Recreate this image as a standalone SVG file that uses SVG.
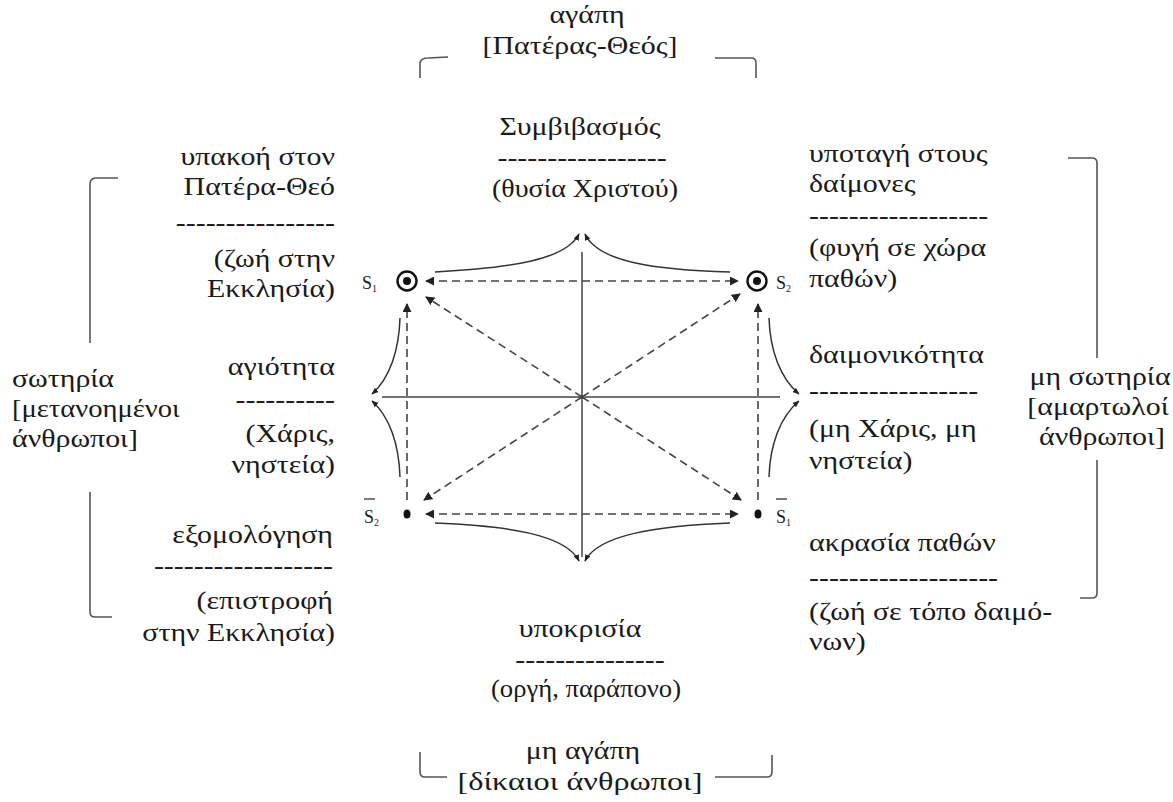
<svg xmlns="http://www.w3.org/2000/svg" width="1173" height="802" viewBox="0 0 1173 802">
<style>
text{font-family:"Liberation Serif","Times New Roman",serif;font-size:26px;fill:#1a1a1a}
.m{text-anchor:middle}
.r{text-anchor:end}
.lbl{font-size:18px}
.sub{font-size:10px}
.br{fill:none;stroke:#555;stroke-width:1.6}
.solid{fill:none;stroke:#444;stroke-width:1.5}
.dash{fill:none;stroke:#444;stroke-width:1.6;stroke-dasharray:8 5}
.curve{fill:none;stroke:#333;stroke-width:1.5}
</style>
<defs>
<marker id="ah" viewBox="0 0 10 10" refX="9" refY="5" markerWidth="9" markerHeight="9" markerUnits="userSpaceOnUse" orient="auto"><path d="M0,0 L10,5 L0,10 z" fill="#222"/></marker>
<marker id="ahs" viewBox="0 0 10 10" refX="9" refY="5" markerWidth="9" markerHeight="9" markerUnits="userSpaceOnUse" orient="auto-start-reverse"><path d="M0,0 L10,5 L0,10 z" fill="#222"/></marker>
<marker id="ac" viewBox="0 0 10 10" refX="9" refY="5" markerWidth="7" markerHeight="7" markerUnits="userSpaceOnUse" orient="auto"><path d="M0,1 L10,5 L0,9 z" fill="#222"/></marker>
</defs>

<g id="top-group">
<text class="m" transform="translate(587 23) scale(1.15 1)">αγάπη</text>
<text class="m" transform="translate(580 54) scale(1.15 1)">[Πατέρας-Θεός]</text>
<path class="br" d="M420,78 V63 Q421,58 428,58 L448,57"/>
<path class="br" d="M715,58 L751,58 Q756,58 756,63 V78"/>
</g>

<g id="bottom-group">
<text class="m" transform="translate(583 759) scale(1.15 1)">μη αγάπη</text>
<text class="m" x="580" y="790" textLength="245" lengthAdjust="spacingAndGlyphs">[δίκαιοι άνθρωποι]</text>
<path class="br" d="M420,752 V772 Q420,777 425,777 L447,777"/>
<path class="br" d="M715,777 L767,777 Q772,777 772,772 V755"/>
</g>

<g id="left-group">
<text transform="translate(12 387) scale(1.15 1)">σωτηρία</text>
<text transform="translate(12 417) scale(1.1 1)">[μετανοημένοι</text>
<text transform="translate(12 447) scale(1.15 1)">άνθρωποι]</text>
<path class="br" d="M118,178 L95,178 Q90,179 90,184 V343"/>
<path class="br" d="M90,492 V612 Q90,617 95,617 L112,617"/>
</g>

<g id="right-group">
<text class="m" transform="translate(1100 385) scale(1.15 1)">μη σωτηρία</text>
<text class="m" transform="translate(1098 415) scale(1.15 1)">[αμαρτωλοί</text>
<text class="m" transform="translate(1102 445) scale(1.15 1)">άνθρωποι]</text>
<path class="br" d="M1068,158 L1092,158 Q1097,158 1097,163 V358"/>
<path class="br" d="M1097,460 V593 Q1097,598 1092,598 L1080,598"/>
</g>

<g id="node-top">
<text class="m" transform="translate(580 135) scale(1.15 1)">Συμβιβασμός</text>
<text class="m" transform="translate(582 166) scale(1.15 1)">-----------------</text>
<text class="m" x="585" y="197" textLength="186" lengthAdjust="spacingAndGlyphs">(θυσία Χριστού)</text>
</g>

<g id="node-bottom">
<text class="m" transform="translate(580 637) scale(1.15 1)">υποκρισία</text>
<text class="m" transform="translate(590 668) scale(1.15 1)">---------------</text>
<text class="m" x="586" y="697" textLength="190" lengthAdjust="spacingAndGlyphs">(οργή, παράπονο)</text>
</g>

<g id="node-left-1">
<text class="r" transform="translate(335 165) scale(1.15 1)">υπακοή στον</text>
<text class="r" transform="translate(335 195) scale(1.15 1)">Πατέρα-Θεό</text>
<text class="r" transform="translate(335 231) scale(1.15 1)">----------------</text>
<text class="r" transform="translate(335 267) scale(1.15 1)">(ζωή στην</text>
<text class="r" transform="translate(335 297) scale(1.15 1)">Εκκλησία)</text>
</g>

<g id="node-left-2">
<text class="r" transform="translate(335 375) scale(1.15 1)">αγιότητα</text>
<text class="r" transform="translate(335 408) scale(1.15 1)">----------</text>
<text class="r" transform="translate(335 442) scale(1.15 1)">(Χάρις,</text>
<text class="r" transform="translate(335 473) scale(1.15 1)">νηστεία)</text>
</g>

<g id="node-left-3">
<text class="r" transform="translate(333 543) scale(1.15 1)">εξομολόγηση</text>
<text class="r" transform="translate(333 574) scale(1.15 1)">------------------</text>
<text class="r" transform="translate(333 609) scale(1.15 1)">(επιστροφή</text>
<text class="r" transform="translate(335 641) scale(1.15 1)">στην Εκκλησία)</text>
</g>

<g id="node-right-1">
<text transform="translate(809 162) scale(1.15 1)">υποταγή στους</text>
<text transform="translate(809 192) scale(1.15 1)">δαίμονες</text>
<text transform="translate(809 224) scale(1.15 1)">------------------</text>
<text transform="translate(809 256) scale(1.15 1)">(φυγή σε χώρα</text>
<text transform="translate(809 287) scale(1.15 1)">παθών)</text>
</g>

<g id="node-right-2">
<text transform="translate(809 363) scale(1.15 1)">δαιμονικότητα</text>
<text transform="translate(809 399) scale(1.15 1)">-----------------</text>
<text transform="translate(809 437) scale(1.15 1)">(μη Χάρις, μη</text>
<text transform="translate(809 469) scale(1.15 1)">νηστεία)</text>
</g>

<g id="node-right-3">
<text transform="translate(809 551) scale(1.15 1)">ακρασία παθών</text>
<text transform="translate(809 586) scale(1.15 1)">-------------------</text>
<text transform="translate(809 620) scale(1.15 1)">(ζωή σε τόπο δαιμό-</text>
<text transform="translate(809 650) scale(1.15 1)">νων)</text>
</g>

<g id="node-S1">
<circle cx="407" cy="281" r="9.5" fill="none" stroke="#111" stroke-width="2.4"/>
<circle cx="407" cy="281" r="4" fill="#111"/>
<text class="lbl" x="362" y="289">S<tspan class="sub" dy="3">1</tspan></text>
</g>
<g id="node-S2">
<circle cx="757" cy="281" r="9.5" fill="none" stroke="#111" stroke-width="2.4"/>
<circle cx="757" cy="281" r="4" fill="#111"/>
<text class="lbl" x="776" y="289">S<tspan class="sub" dy="3">2</tspan></text>
</g>
<g id="node-S2bar">
<ellipse cx="407" cy="514" rx="3.5" ry="4.5" fill="#111"/>
<text class="lbl" x="364" y="523">S<tspan class="sub" dy="3">2</tspan></text>
<line x1="364" y1="499" x2="375" y2="499" stroke="#222" stroke-width="1.2"/>
</g>
<g id="node-S1bar">
<ellipse cx="758" cy="514" rx="3.5" ry="4.5" fill="#111"/>
<text class="lbl" x="776" y="523">S<tspan class="sub" dy="3">1</tspan></text>
<line x1="776" y1="499" x2="787" y2="499" stroke="#222" stroke-width="1.2"/>
</g>

<g id="connectors">
<line class="solid" x1="382" y1="397" x2="780" y2="397"/>
<line class="solid" x1="582" y1="252" x2="582" y2="557"/>
<circle cx="582" cy="397" r="1.8" fill="#333"/>
<line class="dash" x1="426" y1="281" x2="738" y2="281" marker-start="url(#ahs)" marker-end="url(#ah)"/>
<line class="dash" x1="426" y1="514" x2="738" y2="514" marker-start="url(#ahs)" marker-end="url(#ah)"/>
<line class="dash" x1="407" y1="500" x2="407" y2="304" marker-end="url(#ah)"/>
<line class="dash" x1="758" y1="500" x2="758" y2="304" marker-end="url(#ah)"/>
<line class="dash" x1="582" y1="397" x2="426" y2="297" marker-end="url(#ah)"/>
<line class="dash" x1="582" y1="397" x2="740" y2="294" marker-end="url(#ah)"/>
<line class="dash" x1="582" y1="397" x2="424" y2="500" marker-end="url(#ah)"/>
<line class="dash" x1="582" y1="397" x2="741" y2="500" marker-end="url(#ah)"/>
<path class="curve" d="M435,272 C510,268 566,260 579,234" marker-end="url(#ac)"/>
<path class="curve" d="M730,272 C655,270 598,262 585,234" marker-end="url(#ac)"/>
<path class="curve" d="M435,523 C510,526 566,535 579,561" marker-end="url(#ac)"/>
<path class="curve" d="M730,523 C655,526 598,535 585,561" marker-end="url(#ac)"/>
<path class="curve" d="M400,318 C399,350 390,378 372,394" marker-end="url(#ac)"/>
<path class="curve" d="M400,477 C399,445 390,417 372,401" marker-end="url(#ac)"/>
<path class="curve" d="M769,318 C770,350 780,378 799,394" marker-end="url(#ac)"/>
<path class="curve" d="M769,477 C770,445 780,417 799,401" marker-end="url(#ac)"/>
</g>
</svg>
